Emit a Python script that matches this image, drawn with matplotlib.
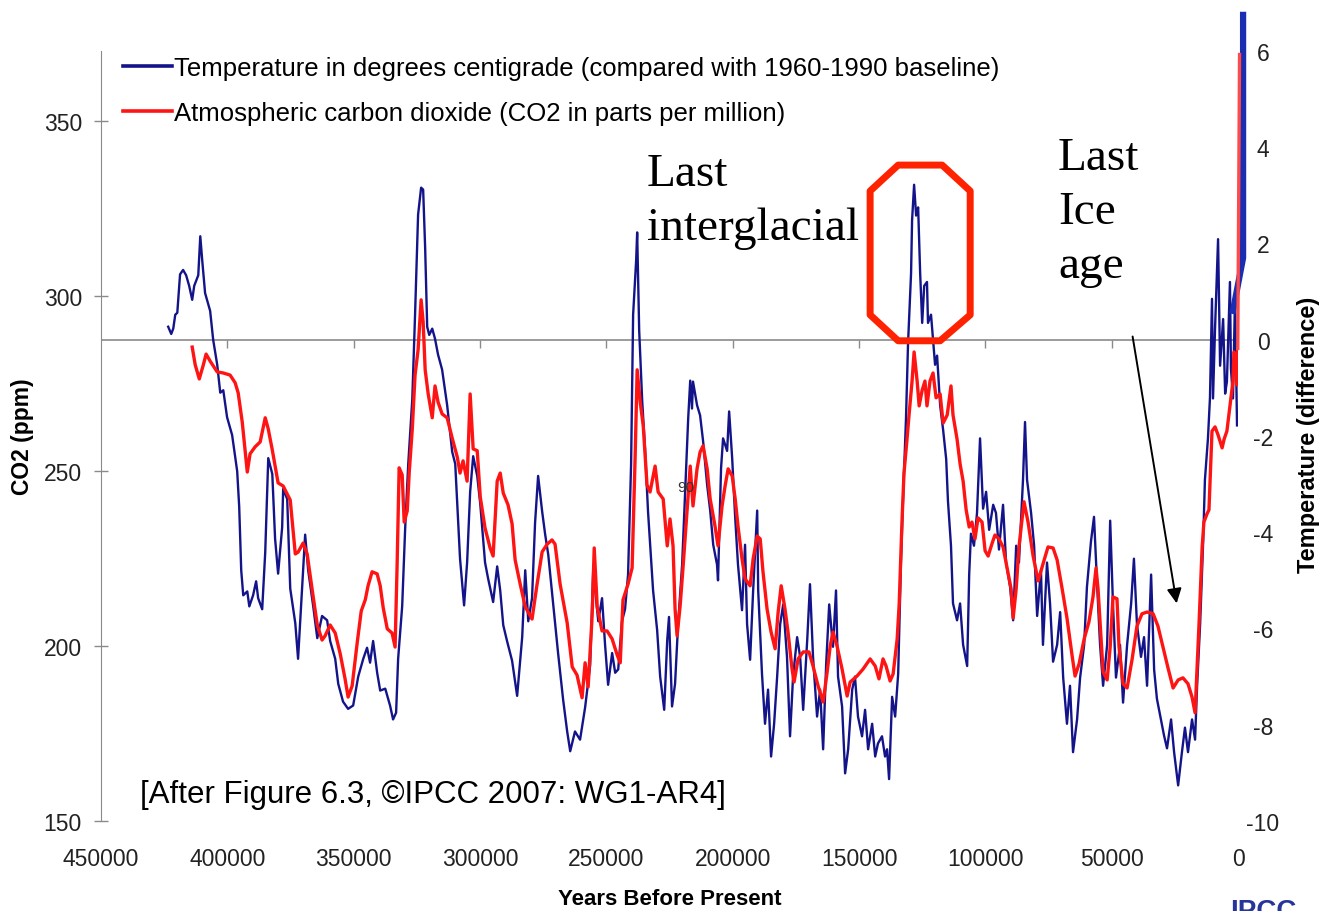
import numpy as np
import matplotlib
matplotlib.use('Agg')
import matplotlib.pyplot as plt
from matplotlib.lines import Line2D
from matplotlib.patches import Polygon

plt.rcParams['font.family'] = ['Liberation Sans', 'DejaVu Sans']
plt.rcParams['axes.unicode_minus'] = False

# Vostok temperature (deg C vs 1960-1990), age in thousands of years before present
temp_age_kyr = [423.4, 422.2, 421.4, 420.6, 419.8, 418.7, 417.5, 416.3, 415.1, 413.9, 413.1, 411.5, 410.7, 409.9, 408.8, 406.8, 405.6, 404.0, 402.8, 401.6, 400.1, 398.1, 396.1, 395.3, 394.5, 393.7, 392.1, 391.3, 389.8, 388.6, 387.8, 386.2, 385.0, 383.8, 382.2, 381.1, 379.9, 378.3, 377.9, 376.3, 375.1, 373.1, 372.0, 370.4, 369.2, 368.0, 366.0, 364.4, 362.5, 360.5, 359.3, 357.3, 356.1, 354.2, 352.2, 350.2, 348.2, 346.2, 344.7, 343.5, 342.3, 340.7, 339.5, 337.5, 335.6, 334.4, 333.2, 332.4, 330.8, 329.6, 328.4, 326.8, 325.7, 324.5, 323.3, 322.5, 321.7, 320.9, 320.1, 318.9, 317.8, 316.6, 315.0, 313.0, 311.0, 309.8, 307.9, 306.3, 305.1, 303.9, 302.7, 301.1, 299.9, 298.0, 296.8, 294.8, 293.2, 292.0, 290.8, 289.3, 287.3, 285.3, 283.3, 282.1, 280.9, 279.4, 278.2, 277.0, 275.4, 274.2, 273.0, 271.1, 269.1, 267.1, 265.5, 264.3, 262.4, 260.4, 258.4, 256.4, 255.2, 253.2, 251.7, 250.5, 249.3, 247.7, 246.5, 245.3, 243.8, 242.6, 241.4, 240.2, 239.4, 238.2, 237.8, 237.0, 235.8, 234.7, 233.5, 231.5, 229.9, 228.7, 227.1, 225.9, 225.2, 224.0, 222.8, 221.6, 220.0, 218.8, 217.6, 216.8, 216.1, 215.7, 214.1, 212.9, 211.7, 210.1, 208.9, 207.7, 206.2, 205.8, 204.6, 203.8, 202.2, 201.4, 200.2, 199.0, 197.9, 196.3, 195.1, 194.3, 193.1, 191.9, 190.3, 189.9, 188.4, 187.2, 186.0, 184.8, 183.6, 182.4, 181.2, 180.0, 178.5, 177.3, 176.1, 174.5, 173.3, 172.1, 170.5, 169.4, 168.2, 166.6, 165.4, 164.2, 163.0, 161.8, 160.3, 159.1, 158.3, 156.7, 155.5, 154.3, 152.7, 151.6, 150.4, 148.8, 147.6, 146.4, 144.8, 143.6, 142.5, 140.9, 139.7, 138.9, 138.1, 136.9, 135.7, 134.5, 133.4, 132.6, 131.4, 130.6, 129.4, 129.0, 128.2, 127.4, 126.6, 125.8, 125.0, 124.2, 123.1, 122.7, 121.5, 120.7, 119.9, 119.1, 117.9, 116.7, 115.5, 114.8, 113.6, 112.8, 111.2, 110.0, 108.8, 107.2, 106.4, 105.7, 104.5, 103.3, 102.1, 100.9, 99.7, 98.5, 96.9, 95.8, 94.6, 93.0, 91.8, 90.2, 89.0, 87.8, 86.7, 85.1, 84.3, 83.5, 81.9, 80.7, 79.5, 78.0, 77.2, 75.6, 74.4, 73.2, 71.6, 70.4, 69.2, 67.7, 66.5, 65.3, 63.7, 62.5, 60.9, 59.8, 58.2, 57.0, 55.8, 54.6, 53.4, 51.8, 50.6, 49.5, 48.3, 46.7, 45.5, 43.9, 42.3, 41.2, 40.0, 38.4, 37.2, 36.0, 34.4, 33.2, 32.1, 30.5, 29.3, 28.1, 26.5, 25.3, 23.7, 22.2, 21.0, 19.8, 18.2, 17.0, 16.2, 15.0, 13.8, 13.1, 11.9, 11.1, 10.3, 9.9, 9.1, 7.9, 7.1, 5.9, 5.1, 4.4, 3.2, 2.8, 2.0, 1.2, 0.8, 0.4]
temp_dev = [0.27, 0.12, 0.23, 0.52, 0.56, 1.36, 1.45, 1.34, 1.12, 0.83, 1.12, 1.34, 2.15, 1.63, 0.97, 0.60, 0.00, -0.52, -1.10, -1.05, -1.61, -1.98, -2.73, -3.47, -4.79, -5.31, -5.23, -5.54, -5.31, -5.02, -5.37, -5.60, -4.42, -2.46, -2.79, -4.13, -4.86, -3.90, -3.10, -3.31, -5.17, -5.89, -6.63, -5.17, -4.05, -4.79, -5.54, -6.20, -5.74, -5.83, -6.26, -6.63, -7.15, -7.52, -7.67, -7.60, -7.00, -6.63, -6.40, -6.71, -6.26, -6.92, -7.29, -7.25, -7.60, -7.89, -7.75, -6.63, -5.54, -3.90, -2.58, -1.24, 0.52, 2.60, 3.16, 3.12, 1.90, 0.27, 0.10, 0.23, 0.02, -0.31, -0.62, -1.36, -2.33, -2.58, -4.55, -5.52, -4.63, -3.16, -2.42, -2.83, -3.41, -4.63, -4.96, -5.45, -4.71, -5.21, -5.93, -6.26, -6.67, -7.40, -6.18, -4.79, -5.85, -5.37, -3.80, -2.83, -3.57, -4.05, -4.46, -5.45, -6.51, -7.48, -8.14, -8.55, -8.14, -8.31, -7.64, -6.76, -4.79, -5.85, -5.37, -6.34, -7.17, -6.51, -6.92, -6.85, -5.85, -5.60, -4.88, -2.58, 0.52, 1.65, 2.23, 0.19, -1.28, -2.25, -3.57, -5.21, -6.03, -7.00, -7.69, -6.24, -5.76, -7.62, -7.15, -5.91, -4.67, -3.14, -1.63, -0.85, -1.43, -0.87, -1.36, -1.57, -2.11, -3.02, -3.55, -4.26, -4.67, -5.00, -2.67, -2.05, -2.31, -1.49, -2.46, -3.70, -4.67, -5.62, -4.26, -5.91, -6.65, -5.21, -3.55, -5.21, -6.94, -7.98, -7.27, -8.66, -7.98, -7.00, -5.91, -5.50, -6.59, -8.24, -7.00, -6.18, -6.59, -7.69, -6.24, -5.08, -6.59, -7.83, -7.27, -8.51, -6.74, -5.50, -6.38, -5.21, -7.00, -7.62, -9.01, -8.51, -7.27, -7.00, -7.83, -8.24, -7.69, -8.51, -7.98, -8.66, -8.39, -8.24, -8.66, -8.51, -9.13, -7.42, -7.83, -6.94, -4.63, -3.35, -1.63, -0.08, 1.38, 2.48, 3.22, 2.58, 2.75, 1.38, 0.35, 1.12, 1.20, 0.35, 0.52, 0.00, -0.52, -0.33, -1.36, -1.88, -2.48, -3.35, -4.28, -5.48, -5.83, -5.48, -6.34, -6.78, -4.88, -4.03, -4.28, -3.60, -2.05, -3.51, -3.16, -3.95, -3.43, -3.60, -4.36, -3.43, -4.63, -5.14, -5.83, -4.28, -4.63, -2.91, -1.71, -2.91, -3.60, -4.28, -5.74, -4.79, -6.34, -4.63, -5.48, -6.69, -6.34, -5.66, -7.02, -7.98, -7.19, -8.57, -7.89, -7.02, -6.34, -5.14, -4.19, -3.68, -5.06, -6.34, -7.19, -6.34, -3.76, -5.48, -7.02, -6.34, -7.54, -6.34, -5.48, -4.55, -5.91, -6.59, -6.18, -7.19, -4.88, -6.86, -7.46, -7.89, -8.22, -8.49, -7.89, -8.57, -9.26, -8.57, -8.06, -8.57, -7.89, -8.31, -7.19, -5.91, -4.19, -2.91, -2.05, -1.20, 0.85, -1.22, 0.23, 2.09, -0.54, 0.43, -1.12, -0.87, 1.20, -0.60, -1.22, 0.85, -0.39, -1.78]

# CO2 (ppm), age in thousands of years before present
co2_age_kyr = [413.9, 412.7, 411.1, 409.5, 408.4, 406.8, 404.0, 401.6, 398.9, 396.9, 395.7, 394.1, 392.1, 391.0, 389.0, 387.0, 385.0, 383.8, 382.2, 379.9, 377.9, 375.1, 373.1, 372.0, 370.0, 368.4, 366.4, 364.4, 362.5, 361.3, 359.3, 357.3, 355.3, 353.4, 352.2, 350.6, 348.6, 347.0, 345.4, 344.3, 342.7, 340.7, 339.5, 338.3, 336.7, 334.8, 333.6, 332.8, 332.0, 330.8, 330.0, 328.8, 328.0, 326.8, 325.7, 324.5, 323.3, 322.5, 321.7, 320.5, 318.9, 317.8, 316.6, 315.0, 313.0, 311.0, 309.0, 307.9, 306.7, 305.1, 303.9, 302.7, 301.1, 299.9, 298.0, 296.0, 294.8, 293.2, 292.0, 290.8, 288.9, 287.3, 286.1, 284.1, 282.1, 279.4, 277.4, 275.4, 273.4, 271.5, 270.3, 268.3, 265.5, 263.5, 261.6, 259.6, 258.4, 257.2, 255.6, 254.8, 253.6, 251.7, 249.7, 247.7, 245.7, 244.5, 243.4, 241.4, 239.8, 238.6, 237.8, 236.6, 235.4, 233.9, 232.7, 230.7, 229.5, 227.5, 225.9, 224.8, 223.6, 222.8, 222.0, 220.8, 219.6, 218.0, 216.8, 215.7, 214.1, 212.9, 211.7, 210.1, 208.9, 207.0, 205.8, 204.2, 203.0, 201.8, 200.2, 199.0, 197.9, 196.3, 195.1, 193.1, 191.9, 190.3, 189.1, 188.0, 186.4, 184.8, 183.2, 182.0, 180.8, 179.3, 178.1, 176.5, 175.7, 174.1, 172.1, 169.8, 168.2, 166.2, 164.2, 162.6, 161.4, 160.3, 158.7, 156.7, 154.7, 153.5, 150.8, 148.4, 145.6, 143.6, 142.1, 140.5, 139.3, 137.7, 136.5, 134.9, 134.1, 133.0, 132.2, 131.0, 130.2, 129.0, 128.2, 127.0, 126.2, 125.0, 123.9, 123.1, 121.9, 120.7, 119.5, 117.9, 116.7, 115.1, 113.6, 112.8, 111.2, 110.0, 108.8, 107.6, 106.4, 105.3, 104.1, 102.9, 101.3, 100.1, 98.9, 97.3, 96.2, 94.6, 93.0, 91.4, 89.8, 89.0, 87.8, 86.7, 84.7, 83.1, 81.1, 79.1, 77.2, 75.2, 73.2, 71.6, 69.6, 67.7, 65.7, 64.5, 62.9, 60.9, 59.0, 57.4, 56.2, 55.4, 54.2, 53.4, 51.8, 50.6, 49.5, 47.9, 47.1, 45.5, 43.9, 41.9, 40.0, 38.0, 36.0, 33.6, 31.7, 29.7, 27.7, 25.7, 23.7, 21.8, 19.8, 18.2, 17.0, 16.2, 15.4, 14.2, 13.5, 12.3, 11.5, 10.3, 9.1, 7.9, 6.3, 5.5, 4.4, 3.2, 2.0, 1.6, 0.8, 0.4, 0.1]
co2_ppm = [285.4, 280.3, 276.3, 280.3, 283.4, 281.4, 278.3, 278.0, 277.4, 275.2, 272.3, 264.0, 249.7, 254.9, 256.9, 258.3, 265.2, 262.0, 256.0, 246.6, 245.7, 241.7, 226.3, 226.8, 229.4, 226.3, 216.0, 206.0, 201.7, 202.9, 206.0, 203.7, 197.7, 190.6, 185.4, 188.6, 200.9, 210.0, 213.2, 217.2, 221.2, 220.6, 217.2, 210.9, 204.9, 203.7, 199.7, 223.2, 250.9, 248.9, 235.4, 238.6, 249.7, 262.0, 277.4, 284.6, 298.9, 292.6, 278.9, 272.0, 265.2, 274.3, 269.7, 266.3, 265.2, 259.4, 254.0, 249.4, 252.9, 247.1, 272.0, 256.3, 255.8, 242.6, 233.7, 228.0, 225.7, 247.1, 249.4, 243.7, 240.3, 234.9, 224.6, 217.7, 211.2, 207.7, 217.7, 226.9, 229.1, 230.3, 229.1, 217.7, 206.6, 194.0, 191.7, 185.2, 195.2, 188.3, 208.9, 228.0, 211.1, 204.3, 204.3, 202.0, 197.4, 195.2, 213.2, 217.7, 222.3, 254.0, 278.9, 269.7, 262.9, 246.0, 244.0, 251.4, 244.0, 242.0, 228.6, 236.3, 228.6, 210.6, 202.9, 211.4, 222.9, 239.2, 251.4, 240.0, 250.6, 255.4, 257.2, 250.6, 242.0, 234.3, 228.6, 240.0, 245.7, 250.6, 248.6, 242.0, 234.3, 224.9, 219.2, 217.2, 224.9, 231.4, 230.6, 221.2, 210.6, 204.0, 199.2, 209.7, 217.2, 210.6, 204.0, 193.4, 189.7, 196.3, 198.3, 198.3, 194.3, 188.6, 184.0, 192.6, 200.0, 204.0, 200.0, 193.4, 185.7, 189.7, 191.4, 193.4, 196.3, 194.3, 190.6, 196.3, 194.3, 190.0, 192.0, 202.0, 212.0, 235.4, 249.4, 259.1, 266.0, 275.7, 284.0, 275.7, 268.6, 273.1, 275.7, 268.6, 275.7, 278.0, 270.9, 272.0, 263.7, 266.0, 274.3, 266.0, 259.1, 252.0, 247.1, 238.9, 234.0, 235.4, 230.6, 236.6, 235.4, 227.2, 225.7, 229.4, 231.7, 230.6, 228.3, 222.3, 216.3, 208.0, 216.3, 228.3, 241.2, 235.4, 225.7, 218.6, 223.4, 228.3, 228.0, 224.6, 216.3, 208.0, 197.4, 191.4, 194.9, 202.0, 206.9, 214.0, 222.3, 216.3, 202.0, 192.6, 190.3, 199.7, 214.0, 213.5, 199.7, 189.2, 188.0, 196.3, 205.7, 209.2, 209.7, 209.2, 205.7, 199.7, 193.7, 188.0, 190.3, 190.9, 189.2, 185.4, 180.9, 193.7, 206.9, 228.3, 235.4, 237.7, 238.9, 261.4, 262.6, 260.3, 256.6, 259.1, 261.4, 268.6, 275.7, 284.0, 282.9, 274.6, 285.0]

# modern rise / projection drawn at the right edge
temp_proj_age_kyr = [2.0, -2.0, -2.0]
temp_proj = [0.6, 1.7, 6.75]
co2_proj_age_kyr = [0.1, -0.6]
co2_proj = [285.0, 369.0]

# red octagon around the last interglacial peak (age kyr, ppm)
ring_age_kyr = [145.6, 134.5, 117.1, 106.0, 106.0, 117.9, 134.5, 145.6]
ring_ppm = [330.0, 337.4, 337.4, 330.0, 294.6, 287.2, 287.2, 294.6]

x_ticks = [450000, 400000, 350000, 300000, 250000, 200000, 150000, 100000, 50000, 0]
co2_ticks = [150, 200, 250, 300, 350]
temp_ticks = [-10, -8, -6, -4, -2, 0, 2, 4, 6]

navy = '#14148a'
red = '#ff1414'
grey = '#8a8a8a'

fig = plt.figure(figsize=(13.2, 9.12), dpi=100)
ax = fig.add_axes([0.0765, 0.0987, 0.8614, 0.8443])
ax2 = ax.twinx()
ax.set_zorder(ax2.get_zorder() + 1)
ax.patch.set_visible(False)

t_years = np.array(temp_age_kyr) * 1000
c_years = np.array(co2_age_kyr) * 1000

ax2.axhline(0, color=grey, lw=1.2, zorder=0)
ax2.plot(x_ticks[1:], [0] * len(x_ticks[1:]), ls='none', marker=3, ms=6, color=grey, zorder=0)
ax2.plot(t_years, temp_dev, color=navy, lw=1.7)
ax2.plot(np.array(temp_proj_age_kyr) * 1000, temp_proj, color='#1b2db0', lw=4.5,
         clip_on=False, solid_joinstyle='miter')

ax.plot(c_years, co2_ppm, color=red, lw=2.4)
ax.plot(np.array(co2_proj_age_kyr) * 1000, co2_proj, color='#ff4a4a', lw=2.4, clip_on=False)

ring = Polygon(list(zip(np.array(ring_age_kyr) * 1000, ring_ppm)), closed=True, fill=False,
               edgecolor='#ff2200', lw=5, joinstyle='round', zorder=5)
ax.add_patch(ring)

ax.annotate('', xy=(24100, 211.4), xytext=(41900, 289.2),
            arrowprops=dict(arrowstyle='-|>', color='black', lw=1.4, mutation_scale=22))
ax.text(218400, 245.4, '90', fontsize=11, color='#333333', ha='center', va='center')

ax.set_xlim(450000, 0)
ax.set_ylim(150, 370)
ax2.set_ylim(-10, 5.95)

ax.set_xticks(x_ticks)
ax.set_xticklabels([str(v) for v in x_ticks])
ax.set_yticks(co2_ticks)
ax2.set_yticks(temp_ticks)

for s in ['top', 'right', 'bottom']:
    ax.spines[s].set_visible(False)
ax.spines['left'].set_color(grey)
for s in ax2.spines.values():
    s.set_visible(False)

ax.tick_params(axis='x', length=0, pad=19, labelsize=16.5, labelcolor='#222222')
ax.tick_params(axis='y', direction='inout', length=9.4, width=1, color=grey, pad=9,
               labelsize=16.5, labelcolor='#222222')
ax2.tick_params(axis='y', length=0, pad=18, labelsize=16.5, labelcolor='#222222')
for lab in ax2.get_yticklabels():
    lab.set_horizontalalignment('center')

fig.text(22 / 1320, 1 - 437 / 912, 'CO2 (ppm)', rotation=90, ha='center', va='center',
         fontweight='bold', fontsize=16.5)
fig.text(1308 / 1320, 1 - 435 / 912, 'Temperature (difference)', rotation=90, ha='center',
         va='center', fontweight='bold', fontsize=17)
fig.text(670 / 1320, 1 - 900 / 912, 'Years Before Present', ha='center', va='center',
         fontweight='bold', fontsize=16)

handles = [Line2D([], [], color=navy, lw=2.6), Line2D([], [], color=red, lw=2.6)]
labels = ['Temperature in degrees centigrade (compared with 1960-1990 baseline)',
          'Atmospheric carbon dioxide (CO2 in parts per million)']
fig.legend(handles, labels, loc='upper left', bbox_to_anchor=(123 / 1320, 1 - 57 / 912),
           frameon=False, fontsize=18.5, handlelength=1.9, handletextpad=0.1,
           labelspacing=0.8, borderpad=0, borderaxespad=0)

fig.text(647 / 1320, 1 - 154 / 912, 'Last\ninterglacial', family='Liberation Serif',
         fontsize=34, ha='left', va='top', linespacing=1.35)
fig.text(1058 / 1320, 1 - 138 / 912, 'Last\nIce\nage', family='Liberation Serif',
         fontsize=34, ha='left', va='top', linespacing=1.35)
fig.text(140 / 1320, 1 - 795 / 912, '[After Figure 6.3, ©IPCC 2007: WG1-AR4]',
         fontsize=22.5, ha='left', va='center')
fig.text(1230 / 1320, 1 - 899 / 912, 'IPCC', color='#27349a', fontweight='bold',
         fontsize=20, ha='left', va='top')

fig.savefig('out.png', dpi=100)
